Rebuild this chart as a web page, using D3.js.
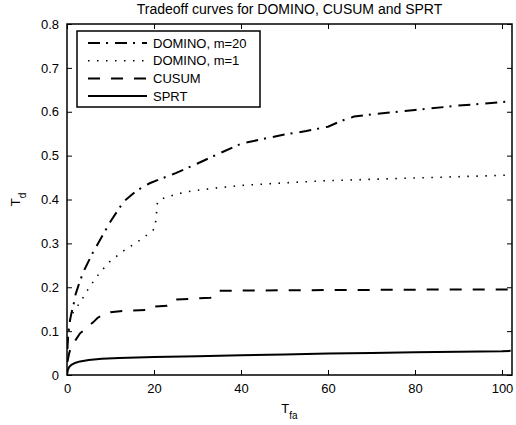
<!DOCTYPE html>
<html>
<head>
<meta charset="utf-8">
<script src="https://cdn.jsdelivr.net/npm/d3@7"></script>
<style>
  body { margin: 0; background: #fff; }
  svg { display: block; font-family: "Liberation Sans", Arial, sans-serif; }
</style>
</head>
<body>
<div id="chart"></div>
<script>
// values
var xTicks = [0, 20, 40, 60, 80, 100];
var yTicks = [0, 0.1, 0.2, 0.3, 0.4, 0.5, 0.6, 0.7, 0.8];
var yTickLabels = ['0', '0.1', '0.2', '0.3', '0.4', '0.5', '0.6', '0.7', '0.8'];

var dominoM20X = [0.1, 0.3, 0.6, 1, 1.5, 2, 3, 4, 6, 8, 10, 13, 16, 19, 21, 25, 30, 35, 40, 45, 50, 55, 60, 63, 66, 70, 80, 90, 100, 102];
var dominoM20Y = [0.06, 0.095, 0.12, 0.14, 0.16, 0.185, 0.215, 0.24, 0.28, 0.315, 0.35, 0.395, 0.42, 0.437, 0.445, 0.46, 0.482, 0.505, 0.527, 0.538, 0.548, 0.556, 0.566, 0.579, 0.589, 0.594, 0.604, 0.614, 0.622, 0.624];

var dominoM1X = [0.1, 0.3, 0.7, 1.5, 3, 5, 7.5, 10, 13, 16, 18.5, 20.2, 20.5, 20.8, 22, 25, 29, 35, 40, 50, 60, 70, 80, 90, 100, 102];
var dominoM1Y = [0.06, 0.09, 0.125, 0.145, 0.165, 0.198, 0.233, 0.26, 0.283, 0.302, 0.32, 0.334, 0.36, 0.395, 0.402, 0.412, 0.42, 0.427, 0.432, 0.438, 0.443, 0.446, 0.449, 0.452, 0.455, 0.456];

var cusumX = [0.1, 0.5, 1, 2, 3, 4, 5, 6, 7, 8, 10, 13, 18, 19, 23, 24, 25, 33, 34, 35, 50, 70, 90, 102];
var cusumY = [0.03, 0.05, 0.065, 0.08, 0.095, 0.103, 0.112, 0.12, 0.13, 0.136, 0.143, 0.146, 0.148, 0.155, 0.158, 0.165, 0.172, 0.176, 0.185, 0.192, 0.193, 0.194, 0.195, 0.195];

var sprtX = [0, 0.2, 0.5, 1, 2, 3, 5, 8, 12, 20, 30, 40, 50, 60, 70, 80, 90, 100, 102];
var sprtY = [0.0, 0.012, 0.018, 0.023, 0.028, 0.031, 0.034, 0.037, 0.039, 0.041, 0.043, 0.045, 0.047, 0.049, 0.05, 0.052, 0.053, 0.054, 0.055];

var seriesNames = ['DOMINO, m=20', 'DOMINO, m=1', 'CUSUM', 'SPRT'];
var seriesX = [dominoM20X, dominoM1X, cusumX, sprtX];
var seriesY = [dominoM20Y, dominoM1Y, cusumY, sprtY];
var dashes = ['12,6,2,7', '1.5,7.5', '12,11', null];
var widths = [2, 1.6, 2, 2];

var width = 516, height = 425;
var margin = {top: 24, right: 4, bottom: 50, left: 67};
var w = width - margin.left - margin.right,
    h = height - margin.top - margin.bottom;

var svg = d3.select('#chart').append('svg')
  .attr('width', width)
  .attr('height', height);

var x = d3.scaleLinear().domain([0, 102.3]).range([0, w]);
var y = d3.scaleLinear().domain([0, 0.8]).range([h, 0]);

var g = svg.append('g')
  .attr('transform', 'translate(' + margin.left + ',' + margin.top + ')');

g.append('clipPath').attr('id', 'clip')
  .append('rect').attr('width', w).attr('height', h);

// curves
var line = d3.line()
  .x(function(d) { return x(d[0]); })
  .y(function(d) { return y(d[1]); });

seriesNames.forEach(function(name, i) {
  var pts = seriesX[i].map(function(v, j) { return [v, seriesY[i][j]]; });
  g.append('path')
    .datum(pts)
    .attr('clip-path', 'url(#clip)')
    .attr('fill', 'none')
    .attr('stroke', '#000')
    .attr('stroke-width', widths[i])
    .attr('stroke-dasharray', dashes[i])
    .attr('d', line);
});

// axes, matlab style: ticks inside on all four sides
var tickLen = 5;
var axisFont = 13;

var xBottom = g.append('g').attr('transform', 'translate(0,' + h + ')')
  .call(d3.axisBottom(x).tickValues(xTicks).tickSizeInner(-tickLen).tickSizeOuter(0).tickPadding(9));
var xTop = g.append('g')
  .call(d3.axisTop(x).tickValues(xTicks).tickSizeInner(-tickLen).tickSizeOuter(0).tickFormat(''));
var yLeft = g.append('g')
  .call(d3.axisLeft(y).tickValues(yTicks).tickSizeInner(-tickLen).tickSizeOuter(0).tickPadding(8)
    .tickFormat(function(d, i) { return yTickLabels[i]; }));
var yRight = g.append('g').attr('transform', 'translate(' + w + ',0)')
  .call(d3.axisRight(y).tickValues(yTicks).tickSizeInner(-tickLen).tickSizeOuter(0).tickFormat(''));

[xBottom, xTop, yLeft, yRight].forEach(function(a) {
  a.select('.domain').remove();
  a.selectAll('line').attr('stroke', '#000').attr('stroke-width', 1);
  a.selectAll('text').attr('font-size', axisFont).attr('fill', '#000')
    .style('font-family', '"Liberation Sans", Arial, sans-serif');
});

g.append('rect')
  .attr('width', w).attr('height', h)
  .attr('fill', 'none').attr('stroke', '#000').attr('stroke-width', 1.5);

// title and axis labels
svg.append('text')
  .attr('x', margin.left + w / 2).attr('y', 14)
  .attr('text-anchor', 'middle').attr('font-size', 14)
  .text('Tradeoff curves for DOMINO, CUSUM and SPRT');

var xl = svg.append('text')
  .attr('x', margin.left + w / 2).attr('y', 413)
  .attr('text-anchor', 'middle').attr('font-size', 13);
xl.append('tspan').text('T');
xl.append('tspan').attr('dy', 6).attr('font-size', 10).text('fa');

var yl = svg.append('text')
  .attr('transform', 'translate(20,' + (margin.top + h / 2) + ') rotate(-90)')
  .attr('text-anchor', 'middle').attr('font-size', 13);
yl.append('tspan').text('T');
yl.append('tspan').attr('dy', 6).attr('font-size', 10).text('d');

// legend
var legend = g.append('g').attr('transform', 'translate(10,7)');
legend.append('rect')
  .attr('width', 183).attr('height', 76)
  .attr('fill', '#fff').attr('stroke', '#000').attr('stroke-width', 1.5);

seriesNames.forEach(function(name, i) {
  var ly = 12 + i * 17.7;
  legend.append('line')
    .attr('x1', 11).attr('x2', 70)
    .attr('y1', ly).attr('y2', ly)
    .attr('stroke', '#000').attr('stroke-width', widths[i])
    .attr('stroke-dasharray', dashes[i]);
  legend.append('text')
    .attr('x', 76).attr('y', ly).attr('dy', '0.35em')
    .attr('font-size', 13)
    .text(name);
});
</script>
</body>
</html>
